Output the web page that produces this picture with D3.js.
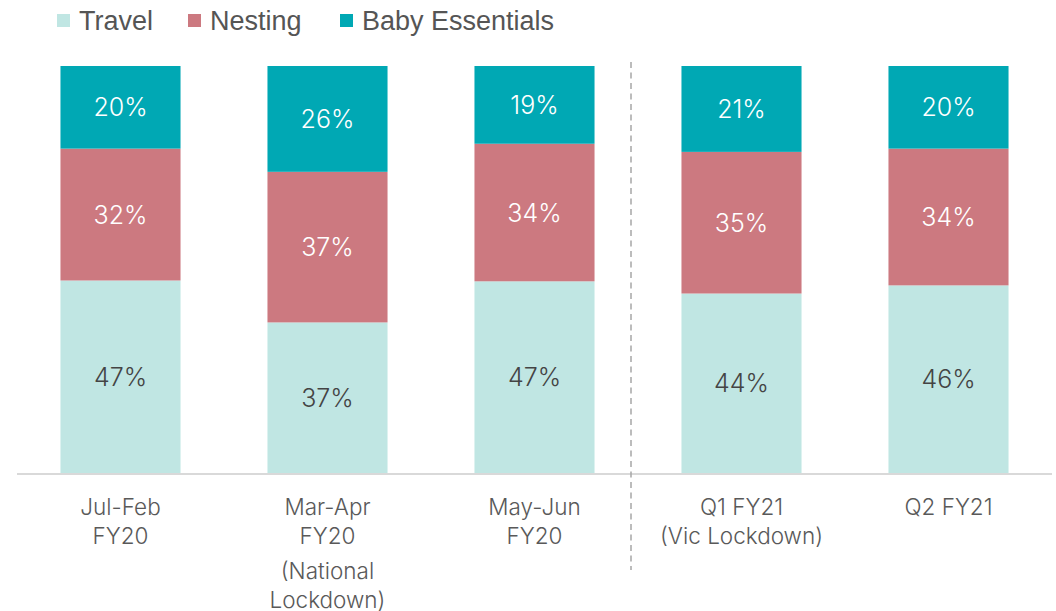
<!DOCTYPE html>
<html>
<head>
<meta charset="utf-8">
<script src="https://cdn.jsdelivr.net/npm/d3@7"></script>
<style>
  body { margin: 0; background: #fff; }
  svg { display: block; }
  .lab { font-family: Inter, "Open Sans", sans-serif; }
</style>
</head>
<body>
<svg id="chart" width="1056" height="611"></svg>
<script>
// periods on the x axis, each label split in lines
var periods = ["Jul-Feb FY20", "Mar-Apr FY20", "May-Jun FY20", "Q1 FY21", "Q2 FY21"];
var periodLines = [
  ["Jul-Feb", "FY20"],
  ["Mar-Apr", "FY20", "(National", "Lockdown)"],
  ["May-Jun", "FY20"],
  ["Q1 FY21", "(Vic Lockdown)"],
  ["Q2 FY21"]
];
var seriesNames = ["Travel", "Nesting", "Baby Essentials"];
var seriesColors = ["#c0e6e3", "#cc7980", "#00a8b4"];
var labelColors = ["#444444", "#ffffff", "#ffffff"];

// share of spend (%)
var travel  = [47.3, 37.0, 47.1, 44.1, 46.1];
var nesting = [32.4, 37.0, 33.8, 34.8, 33.6];
var baby    = [20.3, 26.0, 19.1, 21.1, 20.3];

var svg = d3.select("#chart");

var rows = periods.map(function(p, i){
  return {period: p, "Travel": travel[i], "Nesting": nesting[i], "Baby Essentials": baby[i]};
});

var x = d3.scaleBand()
  .domain(periods)
  .range([17, 1052])
  .paddingInner(0.42)
  .paddingOuter(0.21);

var y = d3.scaleLinear()
  .domain([0, 100])
  .range([473, 66]);

var stack = d3.stack().keys(seriesNames)(rows);

var layers = svg.append("g").selectAll("g")
  .data(stack)
  .enter()
  .append("g")
  .attr("fill", function(d, i){ return seriesColors[i]; });

layers.selectAll("rect")
  .data(function(d){ return d; })
  .enter()
  .append("rect")
  .attr("x", function(d){ return x(d.data.period); })
  .attr("y", function(d){ return y(d[1]); })
  .attr("width", x.bandwidth())
  .attr("height", function(d){ return y(d[0]) - y(d[1]); });

layers.each(function(layer, k){
  d3.select(this).selectAll("text")
    .data(layer)
    .enter()
    .append("text")
    .attr("class", "lab")
    .attr("x", function(d){ return x(d.data.period) + x.bandwidth() / 2; })
    .attr("y", function(d){ return (y(d[0]) + y(d[1])) / 2; })
    .attr("dy", "0.36em")
    .attr("text-anchor", "middle")
    .attr("font-size", "25px")
    .attr("font-weight", 300)
    .attr("fill", labelColors[k])
    .text(function(d){ return Math.round(d[1] - d[0]) + "%"; });
});

// baseline
svg.append("line")
  .attr("x1", x.range()[0]).attr("x2", x.range()[1])
  .attr("y1", y(0) + 1).attr("y2", y(0) + 1)
  .attr("stroke", "#d9d9d9")
  .attr("stroke-width", 2);

// divider between FY20 and FY21
var divX = (x(periods[2]) + x.bandwidth() + x(periods[3])) / 2 - 7;
svg.append("line")
  .attr("x1", divX).attr("x2", divX)
  .attr("y1", 62).attr("y2", 570)
  .attr("stroke", "#a6a6a6")
  .attr("stroke-width", 1.5)
  .attr("stroke-dasharray", "6,4.5");

// category labels
svg.append("g").selectAll("text")
  .data(periods)
  .enter()
  .append("text")
  .attr("class", "lab")
  .attr("text-anchor", "middle")
  .attr("font-size", "22.5px")
  .attr("font-weight", 300)
  .attr("fill", "#595959")
  .each(function(p, i){
    var t = d3.select(this);
    var cx = x(p) + x.bandwidth() / 2;
    periodLines[i].forEach(function(line, j){
      t.append("tspan")
        .attr("x", cx)
        .attr("y", 515 + j * 28.5 + (j > 1 ? 7 : 0))
        .text(line);
    });
  });

// legend
var legendX = [57, 188, 340];
var legend = svg.append("g").selectAll("g")
  .data(seriesNames)
  .enter()
  .append("g")
  .attr("transform", function(d, i){ return "translate(" + legendX[i] + ",0)"; });

legend.append("rect")
  .attr("y", 14)
  .attr("width", 13)
  .attr("height", 13)
  .attr("fill", function(d, i){ return seriesColors[i]; });

legend.append("text")
  .attr("x", 22)
  .attr("y", 30)
  .attr("font-family", "'Liberation Sans', Arial, sans-serif")
  .attr("font-size", "27px")
  .attr("fill", "#555555")
  .text(function(d){ return d; });
</script>
</body>
</html>
